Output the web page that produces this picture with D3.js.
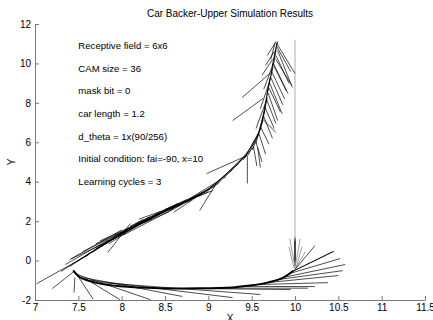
<!DOCTYPE html>
<html>
<head>
<meta charset="utf-8">
<script src="https://cdn.jsdelivr.net/npm/d3@7"></script>
<style>
  body { margin: 0; background: #fff; }
  text { font-family: 'Liberation Sans', Arial, sans-serif; fill: #000; }
</style>
</head>
<body>
<svg id="chart" width="433" height="320"></svg>
<script>
// axis ticks
const xTicks = [7, 7.5, 8, 8.5, 9, 9.5, 10, 10.5, 11, 11.5];
const yTicks = [-2, 0, 2, 4, 6, 8, 10, 12];

// annotation text, y = data position of each line
const notes = [
  'Receptive field = 6x6',
  'CAM size = 36',
  'mask bit = 0',
  'car length = 1.2',
  'd_theta = 1x(90/256)',
  'Initial condition: fai=-90, x=10',
  'Learning cycles = 3'
];
const noteX = 7.5;
const noteY = [10.9, 9.75, 8.6, 7.45, 6.3, 5.15, 4.0];

// car body segments: [xRear, yRear, xFront, yFront]
const startRun = [
  [10, 11.2, 10, 1.2]
];

const verticalRun = [
  [10, 1.2, 10, 0.0],
  [10, 1.1, 10, -0.1],
  [10, 1.0, 10, -0.25]
];

const turnChevrons = [
  [10.0, -0.35, 9.94, 1.1],
  [10.0, -0.35, 10.06, 1.1],
  [9.99, -0.4, 9.93, 0.7],
  [10.01, -0.4, 10.08, 0.7],
  [10.0, -0.45, 10.12, 0.45]
];

const junctionFan = [
  [10.0, -0.45, 10.23, 0.76],
  [9.97, -0.55, 10.44, 0.46],
  [9.96, -0.58, 10.45, 0.47],
  [9.92, -0.68, 10.52, 0.10],
  [9.86, -0.86, 10.58, -0.20],
  [9.78, -0.98, 10.55, -0.51],
  [9.68, -1.12, 10.50, -0.76],
  [9.55, -1.22, 10.38, -1.12],
  [9.40, -1.31, 10.23, -1.32],
  [9.10, -1.40, 10.15, -1.40],
  [8.90, -1.42, 9.95, -1.47]
];

const cornerFan = [
  [7.47, -0.62, 7.67, -1.95],
  [7.50, -0.70, 7.98, -1.98],
  [7.53, -0.78, 8.33, -1.98],
  [7.58, -0.88, 8.70, -1.82],
  [7.65, -1.00, 9.28, -1.88],
  [7.75, -1.12, 9.60, -1.72],
  [7.46, -0.86, 7.45, -1.62],
  [7.45, -0.55, 7.20, -1.42]
];

// thick envelope of the backing arc
const arcX = [7.44, 7.52, 7.62, 7.75, 7.98, 8.44, 8.90, 9.28, 9.48, 9.68, 9.86, 9.98];
const arcY = [-0.50, -0.86, -1.02, -1.17, -1.30, -1.40, -1.41, -1.36, -1.27, -1.12, -0.88, -0.52];

const climbLower = [
  [7.62, 0.30, 7.02, -1.17],
  [7.80, 0.85, 7.30, -0.55],
  [7.92, 1.20, 7.40, -0.30],
  [8.02, 1.45, 7.48, -0.05],
  [8.12, 1.75, 7.58, 0.20],
  [8.22, 1.95, 7.66, 0.42],
  [8.32, 2.22, 7.76, 0.70],
  [8.42, 2.38, 7.86, 0.98],
  [8.52, 2.58, 7.95, 1.22],
  [8.62, 2.78, 8.05, 1.50],
  [8.72, 2.98, 8.14, 1.72],
  [8.82, 3.16, 8.24, 1.98],
  [8.92, 3.36, 8.35, 2.18],
  [9.02, 3.62, 8.45, 2.38],
  [9.12, 3.92, 8.55, 2.58],
  [9.20, 4.25, 8.66, 2.82],
  [8.00, 1.55, 7.42, 0.10],
  [8.25, 2.10, 7.70, 0.62],
  [8.50, 2.50, 7.90, 1.12],
  [8.75, 3.10, 8.15, 1.85],
  [9.00, 3.50, 8.40, 2.30],
  [8.60, 2.62, 8.02, 1.30],
  [8.85, 3.25, 8.30, 2.05],
  [9.08, 3.78, 8.55, 2.50],
  [7.85, 1.05, 7.35, -0.20],
  [8.05, 1.40, 7.40, 0.05],
  [8.20, 1.85, 7.55, 0.45],
  [8.35, 2.10, 7.70, 0.85],
  [8.45, 2.50, 7.85, 0.85],
  [8.55, 2.48, 7.92, 1.30],
  [8.65, 2.90, 8.00, 1.40],
  [8.80, 3.05, 8.20, 2.10],
  [8.95, 3.48, 8.30, 2.10],
  [9.05, 3.55, 8.50, 2.60],
  [9.15, 4.05, 8.60, 2.45],
  [8.40, 2.30, 7.75, 1.00],
  [8.70, 2.85, 8.10, 1.75],
  [8.10, 1.88, 7.84, 0.41],
  [9.10, 3.96, 8.90, 2.54]
];

const climbUpper = [
  [9.27, 4.57, 8.95, 3.45],
  [9.34, 4.90, 9.02, 3.70],
  [9.40, 5.23, 9.10, 3.95],
  [9.46, 5.45, 9.18, 4.20],
  [9.52, 5.73, 9.25, 4.50],
  [9.55, 6.05, 9.32, 4.80],
  [9.57, 6.34, 9.40, 5.10],
  [9.60, 6.65, 9.46, 5.35],
  [9.62, 6.95, 9.51, 5.62],
  [9.63, 7.28, 9.55, 5.95],
  [9.65, 7.61, 9.57, 6.30],
  [9.66, 7.94, 9.60, 6.62],
  [9.68, 8.27, 9.62, 6.95],
  [9.69, 8.78, 9.64, 7.45],
  [9.71, 9.28, 9.66, 7.95],
  [9.74, 9.79, 9.68, 8.45],
  [9.77, 10.30, 9.70, 8.95],
  [9.78, 10.70, 9.72, 9.45],
  [9.79, 11.06, 9.74, 9.90],
  [9.80, 11.12, 9.76, 10.20],
  [9.70, 9.00, 9.60, 7.70],
  [9.66, 8.00, 9.55, 6.70],
  [9.58, 6.50, 9.42, 5.20],
  [9.75, 10.00, 9.64, 8.70],
  [9.78, 11.10, 9.68, 10.40],
  [9.77, 11.05, 9.72, 10.20],
  [9.76, 10.60, 9.66, 9.90],
  [9.74, 10.20, 9.62, 9.40]
];

const climbSpikes = [
  [9.79, 11.01, 10.00, 9.49],
  [9.80, 10.65, 9.97, 8.78],
  [9.78, 10.40, 9.93, 9.00],
  [9.75, 10.00, 9.92, 8.47],
  [9.73, 9.60, 9.88, 8.20],
  [9.71, 8.98, 9.85, 7.46],
  [9.69, 8.50, 9.80, 7.10],
  [9.62, 7.20, 9.78, 6.50],
  [9.60, 6.80, 9.70, 5.90],
  [9.57, 5.73, 9.60, 4.72],
  [9.55, 6.00, 9.62, 5.00],
  [9.45, 5.33, 9.45, 3.91],
  [9.79, 10.85, 9.95, 9.60],
  [9.78, 10.20, 9.96, 8.90],
  [9.76, 9.85, 9.90, 8.60],
  [9.72, 9.30, 9.86, 7.90],
  [9.70, 8.75, 9.83, 7.55],
  [9.67, 8.20, 9.78, 6.95],
  [9.65, 7.80, 9.76, 6.70],
  [9.63, 7.40, 9.74, 6.20],
  [9.58, 6.50, 9.66, 5.40],
  [9.52, 5.80, 9.56, 4.80],
  [9.71, 9.49, 9.39, 8.27],
  [9.63, 8.22, 9.28, 7.10],
  [9.45, 5.33, 8.98, 4.41]
];

const plot = {left: 35, right: 425, top: 24, bottom: 300};

const svg = d3.select('#chart');

const x = d3.scaleLinear().domain([7, 11.5]).range([plot.left, plot.right]);
const y = d3.scaleLinear().domain([-2, 12]).range([plot.bottom, plot.top]);

svg.append('defs').append('clipPath').attr('id', 'plot-clip')
  .append('rect')
  .attr('x', plot.left)
  .attr('y', plot.top)
  .attr('width', plot.right - plot.left)
  .attr('height', plot.bottom - plot.top);

// title
svg.append('text')
  .attr('x', (plot.left + plot.right) / 2)
  .attr('y', 17)
  .attr('text-anchor', 'middle')
  .attr('font-size', 10)
  .text('Car Backer-Upper Simulation Results');

// axes
const xAxis = svg.append('g')
  .attr('transform', `translate(0, ${plot.bottom})`)
  .call(d3.axisBottom(x).tickValues(xTicks).tickSizeInner(-4).tickSizeOuter(0).tickPadding(4)
    .tickFormat((d) => {
      return String(d);
    }));

const yAxis = svg.append('g')
  .attr('transform', `translate(${plot.left}, 0)`)
  .call(d3.axisLeft(y).tickValues(yTicks).tickSizeInner(-4).tickSizeOuter(0).tickPadding(4)
    .tickFormat((d) => {
      return String(d);
    }));

[xAxis, yAxis].forEach((g) => {
  g.select('.domain').attr('stroke', '#7a7a7a');
  g.selectAll('.tick line').attr('stroke', '#7a7a7a');
  g.selectAll('.tick text')
    .attr('font-size', 10)
    .attr('font-family', "'Liberation Sans', Arial, sans-serif")
    .attr('fill', '#000');
});

svg.append('text')
  .attr('x', (plot.left + plot.right) / 2)
  .attr('y', 322)
  .attr('text-anchor', 'middle')
  .attr('font-size', 10)
  .text('X');

svg.append('text')
  .attr('transform', 'translate(15, 162) rotate(-90)')
  .attr('text-anchor', 'middle')
  .attr('font-size', 10)
  .text('Y');

// annotations
svg.append('g').selectAll('text')
  .data(notes)
  .enter()
  .append('text')
  .attr('x', x(noteX))
  .attr('y', (d, i) => {
    return y(noteY[i]);
  })
  .attr('dy', '0.35em')
  .attr('font-size', 9.6)
  .text((d) => {
    return d;
  });

// trajectory
const traj = svg.append('g').attr('clip-path', 'url(#plot-clip)');

const arcLine = d3.line()
  .x((d) => {
    return x(d[0]);
  })
  .y((d) => {
    return y(d[1]);
  })
  .curve(d3.curveCatmullRom);

traj.append('path')
  .datum(arcX.map((v, i) => [v, arcY[i]]))
  .attr('d', arcLine)
  .attr('fill', 'none')
  .attr('stroke', '#000')
  .attr('stroke-width', 2);

const groups = [
  {segs: startRun, color: '#8a8a8a'},
  {segs: verticalRun, color: '#000'},
  {segs: turnChevrons, color: '#777'},
  {segs: junctionFan, color: '#000'},
  {segs: cornerFan, color: '#000'},
  {segs: climbLower, color: '#000'},
  {segs: climbUpper, color: '#000'},
  {segs: climbSpikes, color: '#000'}
];

groups.forEach((grp) => {
  traj.append('g').selectAll('line')
    .data(grp.segs)
    .enter()
    .append('line')
    .attr('x1', (d) => {
      return x(d[0]);
    })
    .attr('y1', (d) => {
      return y(d[1]);
    })
    .attr('x2', (d) => {
      return x(d[2]);
    })
    .attr('y2', (d) => {
      return y(d[3]);
    })
    .attr('stroke', grp.color)
    .attr('stroke-width', 0.7);
});
</script>
</body>
</html>
